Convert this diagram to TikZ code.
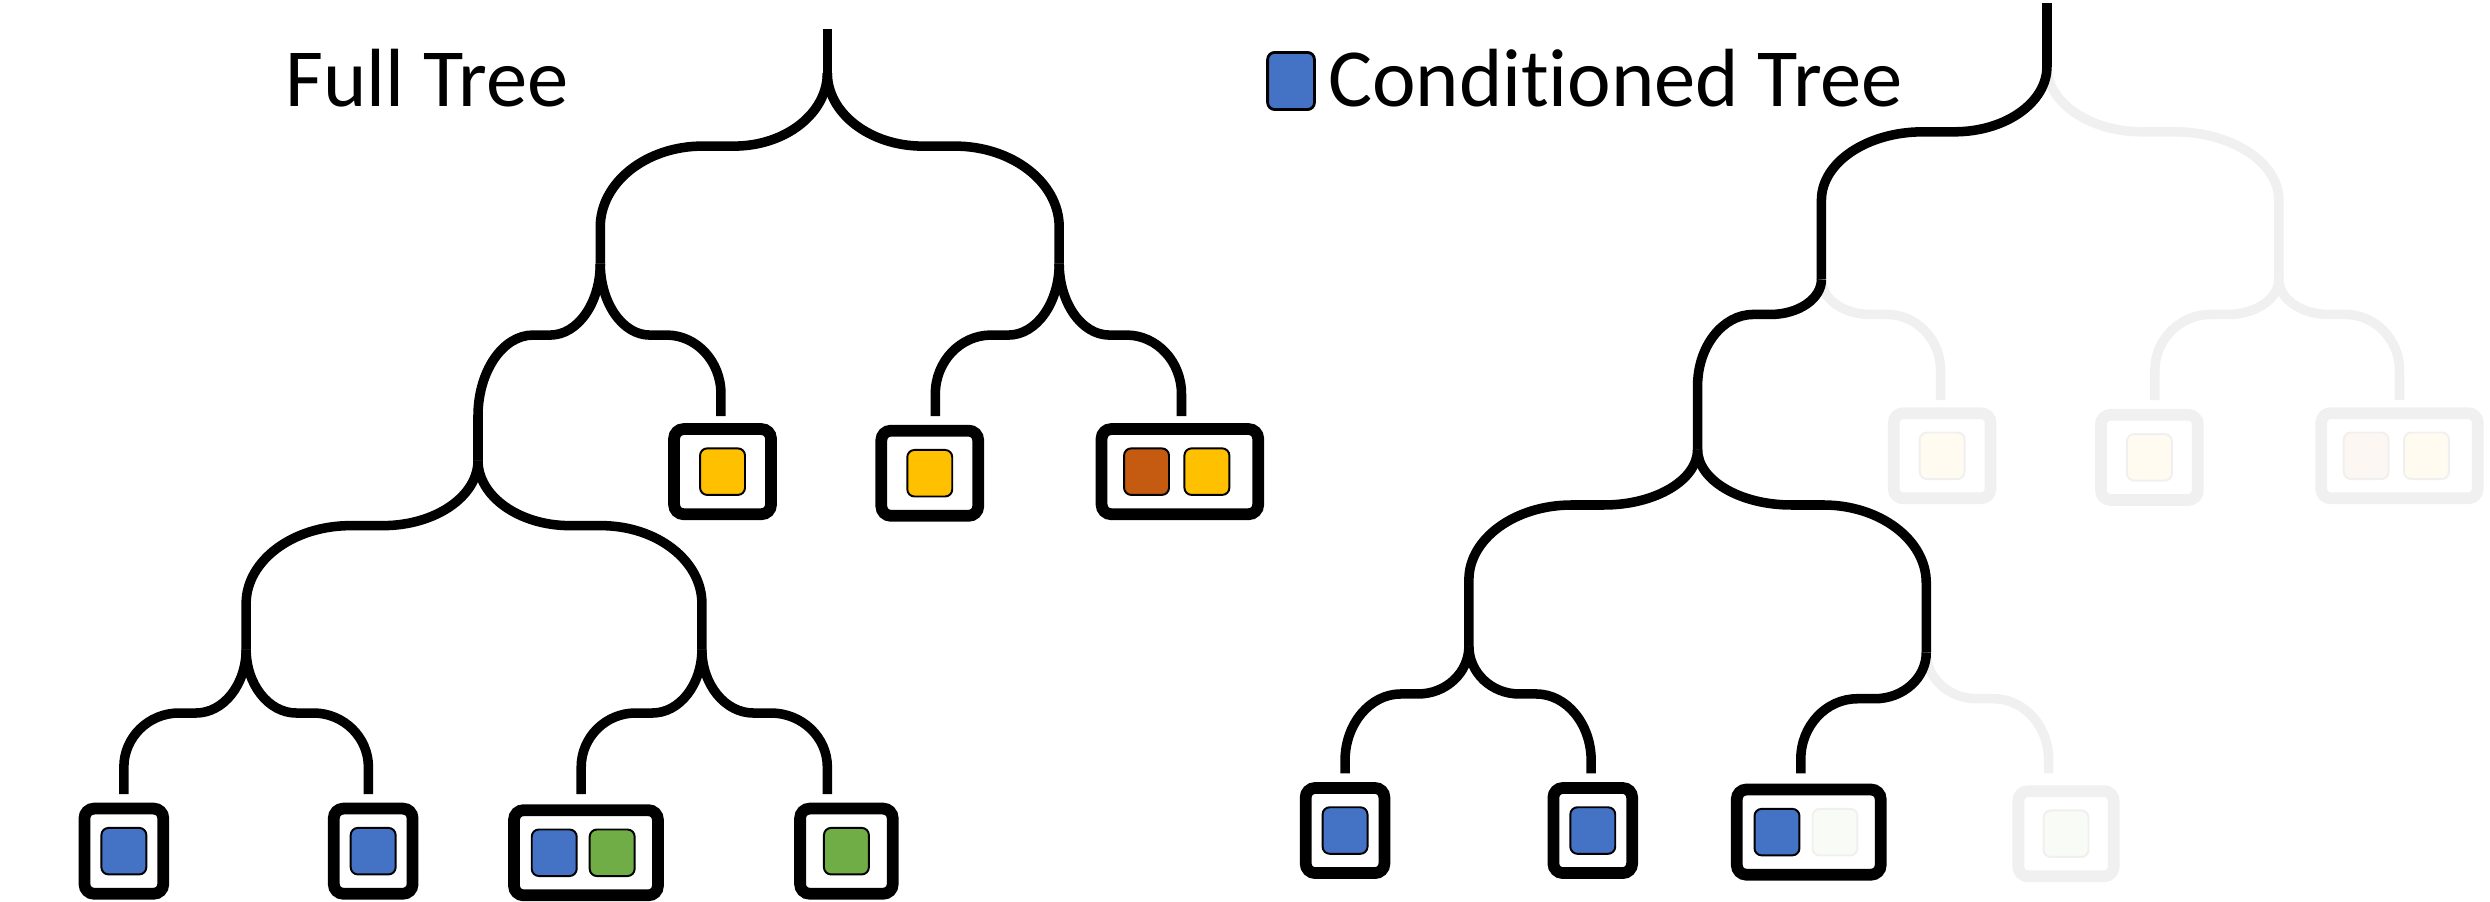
\documentclass[tikz,border=0pt]{standalone}
\usepackage{fontspec}
\setmainfont{Carlito}[Ligatures={NoCommon}]
\usetikzlibrary{calc}

\definecolor{leafblue}{HTML}{4472C4}
\definecolor{leafgreen}{HTML}{70AD47}
\definecolor{leafgold}{HTML}{FFC000}
\definecolor{leafrust}{HTML}{C55A11}
\definecolor{ghost}{HTML}{F0F0F0}

\tikzset{
  branch/.style={line width=0.6mm},
  ghostline/.style={branch, draw=ghost},
  leafbox/.style={draw, line width=0.74mm, rounded corners=0.6mm, minimum height=5.36mm, inner sep=0pt},
  ghostbox/.style={leafbox, draw=ghost},
  chip/.style={draw, line width=0.35pt, rounded corners=0.45mm, minimum width=2.83mm, minimum height=2.93mm, inner sep=0pt},
  ghostchip/.style={chip, draw=ghost},
  title/.style={inner sep=0pt, font=\fontsize{14.8pt}{17pt}\selectfont},
  % bend down, run flat, bend down again
  fork/.style 2 args={to path={
    let \p1=(\tikztostart), \p2=(\tikztotarget),
        \n1={\y1-#1*0.1mm},
        \n2={\x1+0.41*(\x2-\x1)},
        \n3={\x1+0.55*(\x2-\x1)},
        \n4={\n1-#2*0.1mm}
    in .. controls (\x1,{\y1+0.55*(\n1-(\y1))}) and ({\n2+0.55*(\x1-\n2)},\n1) .. (\n2,\n1)
    -- (\n3,\n1)
    .. controls ({\n3+0.55*(\x2-\n3)},\n1) and (\x2,{\n4+0.55*(\n1-\n4)}) .. (\x2,\n4)
    -- (\tikztotarget)
  }}
}

\begin{document}
\begin{tikzpicture}[x=0.1mm, y=-0.1mm]
\useasboundingbox (0,0) rectangle (1568,568);

% titles
\node[title, anchor=base west] (fulltitle) at (179,67) {Full Tree};
\node[chip, fill=leafblue, line width=0.5pt, minimum width=2.95mm, minimum height=3.6mm] (key) at (813,51) {};
\node[title, anchor=base west] (condtitle) at ([xshift=0.7mm]key.east |- fulltitle.base) {Conditioned Tree};

% full tree
\coordinate (F0) at (521,18);
\coordinate (F) at (521,46);
\coordinate (FL) at (378,166);
\coordinate (FR) at (667,166);
\coordinate (FLL) at (301,290);
\coordinate (FLR) at (454,262);
\coordinate (FRL) at (589,262);
\coordinate (FRR) at (744,262);
\coordinate (FLLL) at (155,409);
\coordinate (FLLR) at (442,409);
\coordinate (FLLLL) at (78,500);
\coordinate (FLLLR) at (232,500);
\coordinate (FLLRL) at (366,500);
\coordinate (FLLRR) at (521,500);

\draw[branch] (F0) -- (F);
\draw[branch] (F) to[fork={46}{51}] (FL);
\draw[branch] (F) to[fork={46}{51}] (FR);
\draw[branch] (FL) to[fork={45}{51}] (FLL);
\draw[branch] (FL) to[fork={45}{37}] (FLR);
\draw[branch] (FR) to[fork={45}{37}] (FRL);
\draw[branch] (FR) to[fork={45}{37}] (FRR);
\draw[branch] (FLL) to[fork={41}{49}] (FLLL);
\draw[branch] (FLL) to[fork={41}{49}] (FLLR);
\foreach \p/\c in {FLLL/FLLLL, FLLL/FLLLR, FLLR/FLLRL, FLLR/FLLRR}
  \draw[branch] (\p) to[fork={40}{34}] (\c);

\node[leafbox, minimum width=6.1mm] (bFLR) at (455,297) {};
\node[chip, fill=leafgold] (kFLR) at (bFLR) {};
\node[leafbox, minimum width=6.1mm] (bFRL) at (585.5,298) {};
\node[chip, fill=leafgold] (kFRL) at (bFRL) {};
\node[leafbox, minimum width=9.86mm] (bFRR) at (743,297) {};
\node[chip, fill=leafrust] (kFRR1) at ([xshift=-2.1mm]bFRR.center) {};
\node[chip, fill=leafgold] (kFRR2) at ([xshift=1.7mm]bFRR.center) {};

\node[leafbox, minimum width=4.96mm] (bFLLLL) at (78,536) {};
\node[chip, fill=leafblue] (kFLLLL) at (bFLLLL) {};
\node[leafbox, minimum width=4.96mm] (bFLLLR) at (235,536) {};
\node[chip, fill=leafblue] (kFLLLR) at (bFLLLR) {};
\node[leafbox, minimum width=9.06mm] (bFLLRL) at (369,537) {};
\node[chip, fill=leafblue] (kFLLRL1) at ([xshift=-2mm]bFLLRL.center) {};
\node[chip, fill=leafgreen] (kFLLRL2) at ([xshift=1.65mm]bFLLRL.center) {};
\node[leafbox, minimum width=5.83mm] (bFLLRR) at (533,536) {};
\node[chip, fill=leafgreen] (kFLLRR) at (bFLLRR) {};

% conditioned tree
\coordinate (C0) at (1289,2);
\coordinate (C) at (1289,42);
\coordinate (CL) at (1147,176);
\coordinate (CR) at (1435,176);
\coordinate (CLL) at (1069,283);
\coordinate (CLR) at (1222,252);
\coordinate (CRL) at (1357,252);
\coordinate (CRR) at (1511,252);
\coordinate (CLLL) at (925,407);
\coordinate (CLLR) at (1213,411);
\coordinate (CLLLL) at (847,487);
\coordinate (CLLLR) at (1002,487);
\coordinate (CLLRL) at (1134,487);
\coordinate (CLLRR) at (1290,487);

\draw[ghostline] (C) to[fork={41}{43}] (CR);
\draw[ghostline] (CL) to[fork={22}{35}] (CLR);
\draw[ghostline] (CR) to[fork={22}{35}] (CRL);
\draw[ghostline] (CR) to[fork={22}{35}] (CRR);
\draw[ghostline] (CLLR) to[fork={29}{38}] (CLLRR);

\draw[branch] (C0) -- (C);
\draw[branch] (C) to[fork={41}{43}] (CL);
\draw[branch] (CL) to[fork={22}{45}] (CLL);
\draw[branch] (CLL) to[fork={35}{47}] (CLLL);
\draw[branch] (CLL) to[fork={35}{49}] (CLLR);
\draw[branch] (CLLL) to[fork={30}{42}] (CLLLL);
\draw[branch] (CLLL) to[fork={30}{42}] (CLLLR);
\draw[branch] (CLLR) to[fork={29}{38}] (CLLRL);

\node[ghostbox, minimum width=6.1mm] (bCLR) at (1223,287) {};
\node[ghostchip, fill=leafgold!6] (kCLR) at (bCLR) {};
\node[ghostbox, minimum width=6.1mm] (bCRL) at (1353.5,288) {};
\node[ghostchip, fill=leafgold!6] (kCRL) at (bCRL) {};
\node[ghostbox, minimum width=9.86mm] (bCRR) at (1511,287) {};
\node[ghostchip, fill=leafrust!5] (kCRR1) at ([xshift=-2.1mm]bCRR.center) {};
\node[ghostchip, fill=leafgold!6] (kCRR2) at ([xshift=1.7mm]bCRR.center) {};

\node[leafbox, minimum width=4.96mm] (bCLLLL) at (847,523) {};
\node[chip, fill=leafblue] (kCLLLL) at (bCLLLL) {};
\node[leafbox, minimum width=4.96mm] (bCLLLR) at (1003,523) {};
\node[chip, fill=leafblue] (kCLLLR) at (bCLLLR) {};
\node[leafbox, minimum width=9.06mm] (bCLLRL) at (1139,524) {};
\node[chip, fill=leafblue] (kCLLRL1) at ([xshift=-2mm]bCLLRL.center) {};
\node[ghostchip, fill=leafgreen!5] (kCLLRL2) at ([xshift=1.65mm]bCLLRL.center) {};
\node[ghostbox, minimum width=6mm] (bCLLRR) at (1301,525) {};
\node[ghostchip, fill=leafgreen!5] (kCLLRR) at (bCLLRR) {};
\end{tikzpicture}
\end{document}
